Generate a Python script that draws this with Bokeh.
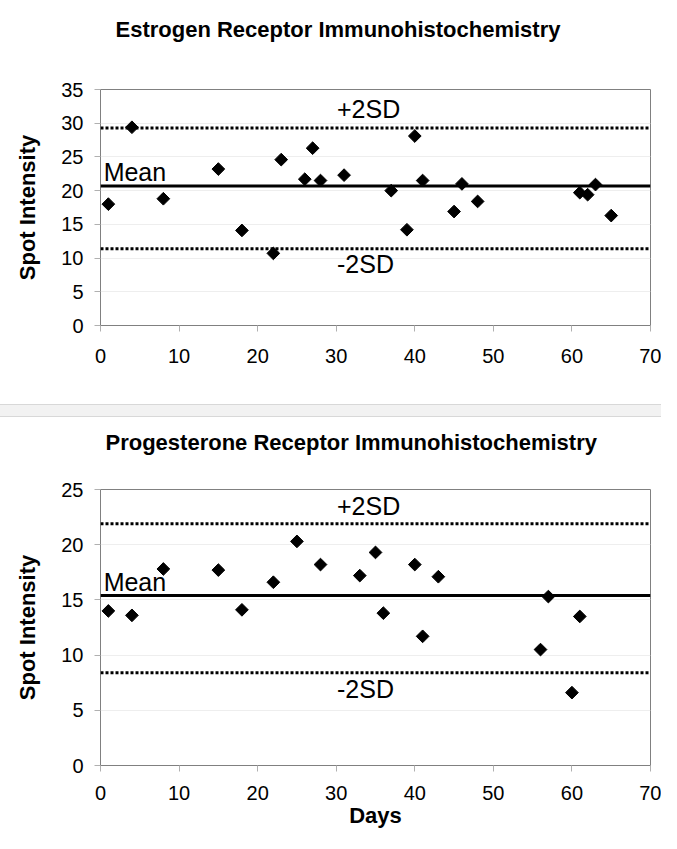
import math
from bokeh.plotting import figure
from bokeh.models import Span, Label, Range1d, FixedTicker, Spacer, Title
from bokeh.layouts import column
from bokeh.embed import file_html
from bokeh.resources import INLINE

# ---- data: Estrogen receptor ----
er_days = [1, 4, 8, 15, 18, 22, 23, 26, 27, 28, 31, 37, 39, 40, 41, 45, 46, 48, 61, 62, 63, 65]
er_vals = [18.0, 29.4, 18.8, 23.2, 14.1, 10.7, 24.6, 21.7, 26.3, 21.5, 22.3, 20.0, 14.2, 28.1,
           21.5, 16.9, 21.0, 18.4, 19.7, 19.4, 20.9, 16.3]
er_mean = 20.7
er_plus2sd = 29.3
er_minus2sd = 11.4

# ---- data: Progesterone receptor ----
pr_days = [1, 4, 8, 15, 18, 22, 25, 28, 33, 35, 36, 40, 41, 43, 56, 57, 60, 61]
pr_vals = [14.0, 13.6, 17.8, 17.7, 14.1, 16.6, 20.3, 18.2, 17.2, 19.3, 13.8, 18.2, 11.7, 17.1,
           10.5, 15.3, 6.6, 13.5]
pr_mean = 15.4
pr_plus2sd = 21.9
pr_minus2sd = 8.4

x_ticks = [0, 10, 20, 30, 40, 50, 60, 70]
er_y_ticks = [0, 5, 10, 15, 20, 25, 30, 35]
pr_y_ticks = [0, 5, 10, 15, 20, 25]

FONT = "Liberation Sans"


def make_panel(title, days, vals, mean, plus, minus, y_ticks, height,
               b_left, b_top, b_bottom, title_offset, title_gap,
               offs, xlabel=None, x_standoff=17):
    p = figure(width=661, height=height,
               x_range=Range1d(x_ticks[0], x_ticks[-1]),
               y_range=Range1d(y_ticks[0], y_ticks[-1]),
               output_backend="svg", toolbar_location=None,
               min_border_left=b_left, min_border_right=11,
               min_border_top=b_top, min_border_bottom=b_bottom)
    p.background_fill_color = "white"
    p.border_fill_color = "white"
    p.outline_line_color = "#808080"
    p.outline_line_width = 1

    p.xgrid.grid_line_color = None
    p.ygrid.grid_line_color = "#eeeeee"

    for ax in (p.xaxis, p.yaxis):
        ax.axis_line_color = "#808080"
        ax.major_tick_line_color = "#b0b0b0"
        ax.major_tick_out = 6
        ax.major_tick_in = 0
        ax.minor_tick_line_color = None
        ax.major_label_text_font = FONT
        ax.major_label_text_font_size = "20px"
        ax.major_label_text_color = "black"
        ax.axis_label_text_font = FONT
        ax.axis_label_text_font_size = "22px"
        ax.axis_label_text_font_style = "bold"
        ax.axis_label_text_color = "black"

    p.xaxis.ticker = FixedTicker(ticks=x_ticks)
    p.yaxis.ticker = FixedTicker(ticks=y_ticks)
    p.xaxis.major_label_standoff = x_standoff
    p.yaxis.major_label_standoff = 11
    p.yaxis.axis_label = "Spot Intensity"
    p.yaxis.axis_label_standoff = 18
    if xlabel:
        p.xaxis.axis_label = xlabel
        p.xaxis.axis_label_standoff = 0

    # blank spacer title next to the frame, then the real title above it
    p.add_layout(Title(text=" ", text_font=FONT, text_font_size="22px",
                       standoff=title_gap), "above")
    p.add_layout(Title(text=title, text_font=FONT, text_font_size="22px",
                       text_font_style="bold", text_color="black",
                       align="left", offset=title_offset, standoff=0), "above")

    p.add_layout(Span(location=mean, dimension="width", line_color="black", line_width=3))
    p.add_layout(Span(location=plus, dimension="width", line_color="black", line_width=3,
                      line_dash="3 2"))
    p.add_layout(Span(location=minus, dimension="width", line_color="black", line_width=3,
                      line_dash="3 2"))

    p.scatter(days, vals, marker="square", angle=math.pi / 4, size=9,
              fill_color="black", line_color="black")

    lab = dict(text_font=FONT, text_font_size="25px", text_color="black",
               text_baseline="alphabetic")
    p.add_layout(Label(x=30.1, y=plus, y_offset=offs[0], text="+2SD", **lab))
    p.add_layout(Label(x=0.4, y=mean, y_offset=offs[1], text="Mean", **lab))
    p.add_layout(Label(x=30.1, y=minus, y_offset=offs[2], text="-2SD", **lab))
    return p


p1 = make_panel("Estrogen Receptor Immunohistochemistry", er_days, er_vals,
                er_mean, er_plus2sd, er_minus2sd, er_y_ticks,
                height=404, b_left=100, b_top=89, b_bottom=79,
                title_offset=15, title_gap=21, offs=(19, 14, -15))

gap = Spacer(width=661, height=13,
             styles={"background-color": "#f2f2f2",
                     "border-top": "1px solid #d8d8d8",
                     "border-bottom": "1px solid #d8d8d8",
                     "box-sizing": "border-box"})

p2 = make_panel("Progesterone Receptor Immunohistochemistry", pr_days, pr_vals,
                pr_mean, pr_plus2sd, pr_minus2sd, pr_y_ticks,
                height=416, b_left=98, b_top=72, b_bottom=68,
                title_offset=5, title_gap=8, offs=(18, 13, -16),
                xlabel="Days", x_standoff=14)

layout = column(p1, gap, p2, spacing=0)

with open("out.html", "w") as f:
    f.write(file_html(layout, INLINE))
